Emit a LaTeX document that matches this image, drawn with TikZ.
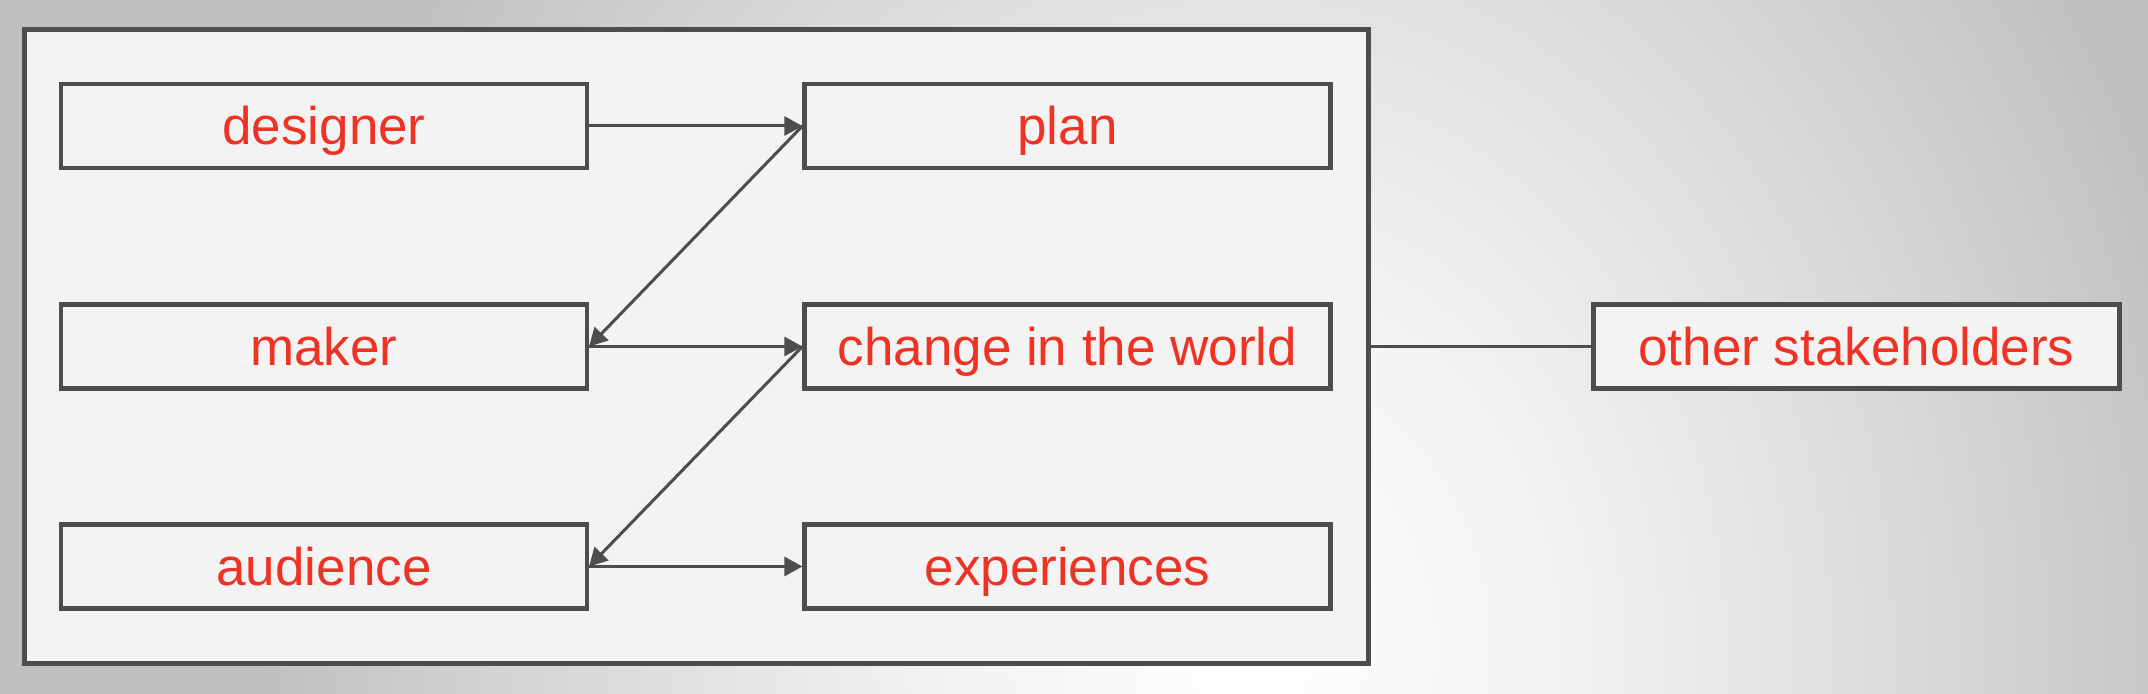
\documentclass[tikz,border=0pt]{standalone}
\usepackage{fontspec}
\setmainfont{Liberation Sans}
\usetikzlibrary{arrows.meta}
\definecolor{boxline}{RGB}{77,77,77}
\definecolor{boxfill}{RGB}{243,243,243}
\definecolor{labelred}{RGB}{238,50,36}
\pgfdeclareradialshading{backshade}{\pgfpoint{0bp}{0bp}}{color(0bp)=(white); color(8bp)=(gray!10); color(17bp)=(gray!30); color(25bp)=(gray!50); color(50bp)=(gray!50)}
\tikzset{
	stagebox/.style={draw=boxline, fill=boxfill, line width=2.1pt, minimum width=263pt, minimum height=42pt, inner sep=0pt, text height=21pt, text depth=2pt, text=labelred, font=\fontsize{26.5}{30}\selectfont},
	flow/.style={draw=boxline, line width=1.5pt, -{Triangle[length=9pt,width=9.5pt]}}
}
\begin{document}
\begin{tikzpicture}[x=0.5pt,y=-0.5pt]
			\useasboundingbox (0,0) rectangle (2148,694);
			\fill[gray!50] (0,0) rectangle (2148,694);
			\begin{scope}
				\clip (0,0) rectangle (2148,694);
				\shade[shading=backshade] (250,-550) rectangle (2250,1850);
			\end{scope}
			\node[draw=boxline, fill=boxfill, line width=2.4pt, minimum width=672pt, minimum height=317pt] (frame) at (696.5,346.5) {};
			\node[stagebox] (designer) at (324,126) {designer};
			\node[stagebox] (plan) at (1067.5,126) {plan};
			\node[stagebox] (maker) at (324,346.5) {maker};
			\node[stagebox] (change) at (1067.5,346.5) {change in the world};
			\node[stagebox] (audience) at (324,566.5) {audience};
			\node[stagebox] (experiences) at (1067.5,566.5) {experiences};
			\node[stagebox] (others) at (1856.5,346.5) {other stakeholders};
			\draw[flow] (designer.east) -- (plan.west);
			\draw[flow] (plan.west) -- (maker.east);
			\draw[flow] (maker.east) -- (change.west);
			\draw[flow] (change.west) -- (audience.east);
			\draw[flow] (audience.east) -- (experiences.west);
			\draw[draw=boxline, line width=1.5pt] (frame.east) -- (others.west);
		\end{tikzpicture}
\end{document}
